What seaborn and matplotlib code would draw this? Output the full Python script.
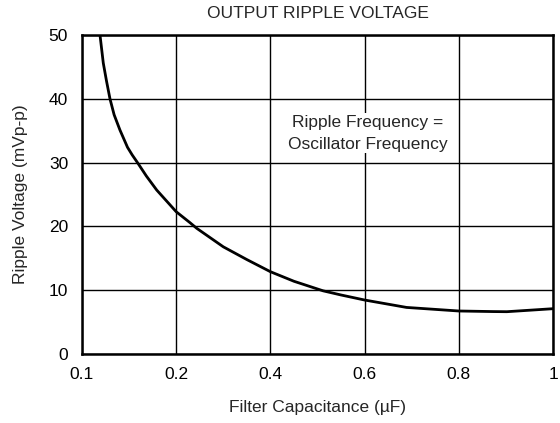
import numpy as np
import pandas as pd
import matplotlib
matplotlib.use("Agg")
import matplotlib.pyplot as plt
import seaborn as sns

# values
capacitance = [0.1191, 0.1226, 0.126, 0.1297, 0.1341, 0.1403, 0.1483, 0.1533,
               0.1589, 0.1683, 0.1793, 0.200, 0.229, 0.2436, 0.300, 0.350,
               0.400, 0.450, 0.512, 0.550, 0.600, 0.689, 0.800, 0.873,
               0.902, 1.000]
ripple_mv = [50.0, 45.6, 42.8, 40.0, 37.5, 35.1, 32.4, 31.2,
             30.0, 27.9, 25.7, 22.3, 20.6, 19.7, 16.8, 14.8,
             12.9, 11.4, 9.9, 9.25, 8.46, 7.3, 6.74, 6.65,
             6.63, 7.1]

x_ticks = [0.1, 0.2, 0.4, 0.6, 0.8, 1.0]
x_tick_labels = ["0.1", "0.2", "0.4", "0.6", "0.8", "1"]
y_ticks = [0, 10, 20, 30, 40, 50]

df = pd.DataFrame({"cap": capacitance, "ripple": ripple_mv})

sns.set_style("white")
plt.rcParams['font.family'] = ['Liberation Sans', 'DejaVu Sans']


# datasheet axis: 0.1-0.2 gets one division, then 0.2 per division
def fwd(c):
    c = np.asarray(c, dtype=float)
    return np.where(c <= 0.2, (c - 0.1) / 0.1, 1 + (c - 0.2) / 0.2)


def inv(p):
    p = np.asarray(p, dtype=float)
    return np.where(p <= 1, 0.1 + 0.1 * p, 0.2 + 0.2 * (p - 1))


fig = plt.figure(figsize=(5.6, 4.23), dpi=100)
ax = fig.add_axes([82 / 560, 1 - 354 / 423, 471 / 560, 319 / 423])
ax.set_xscale('function', functions=(fwd, inv))

sns.lineplot(data=df, x="cap", y="ripple", ax=ax, color="black", linewidth=2,
             estimator=None, sort=True, zorder=3)

ax.set_xlim(0.1, 1.0)
ax.set_ylim(0, 50)
ax.set_xticks(x_ticks)
ax.set_xticklabels(x_tick_labels)
ax.set_yticks(y_ticks)
ax.xaxis.set_minor_locator(matplotlib.ticker.NullLocator())
ax.tick_params(length=0, labelsize=12.5, colors="black")
ax.tick_params(axis='x', pad=9)
ax.tick_params(axis='y', pad=10)
ax.grid(True, color="black", linewidth=1)
ax.set_axisbelow(True)
for s in ax.spines.values():
    s.set_color("black")
    s.set_linewidth(1.8)
    s.set_zorder(4)

ax.set_title("OUTPUT RIPPLE VOLTAGE", fontsize=12.5, pad=12)
ax.set_xlabel("Filter Capacitance (µF)", fontsize=12.5, labelpad=13)
ax.set_ylabel("Ripple Voltage (mVp-p)", fontsize=12.5, labelpad=15)

ax.text(0.607, 34.6, "Ripple Frequency =\nOscillator Frequency", ha="center", va="center",
        fontsize=12.5, linespacing=1.6, zorder=2,
        bbox=dict(facecolor="white", edgecolor="none", pad=1))

fig.savefig("out.png", dpi=100)
